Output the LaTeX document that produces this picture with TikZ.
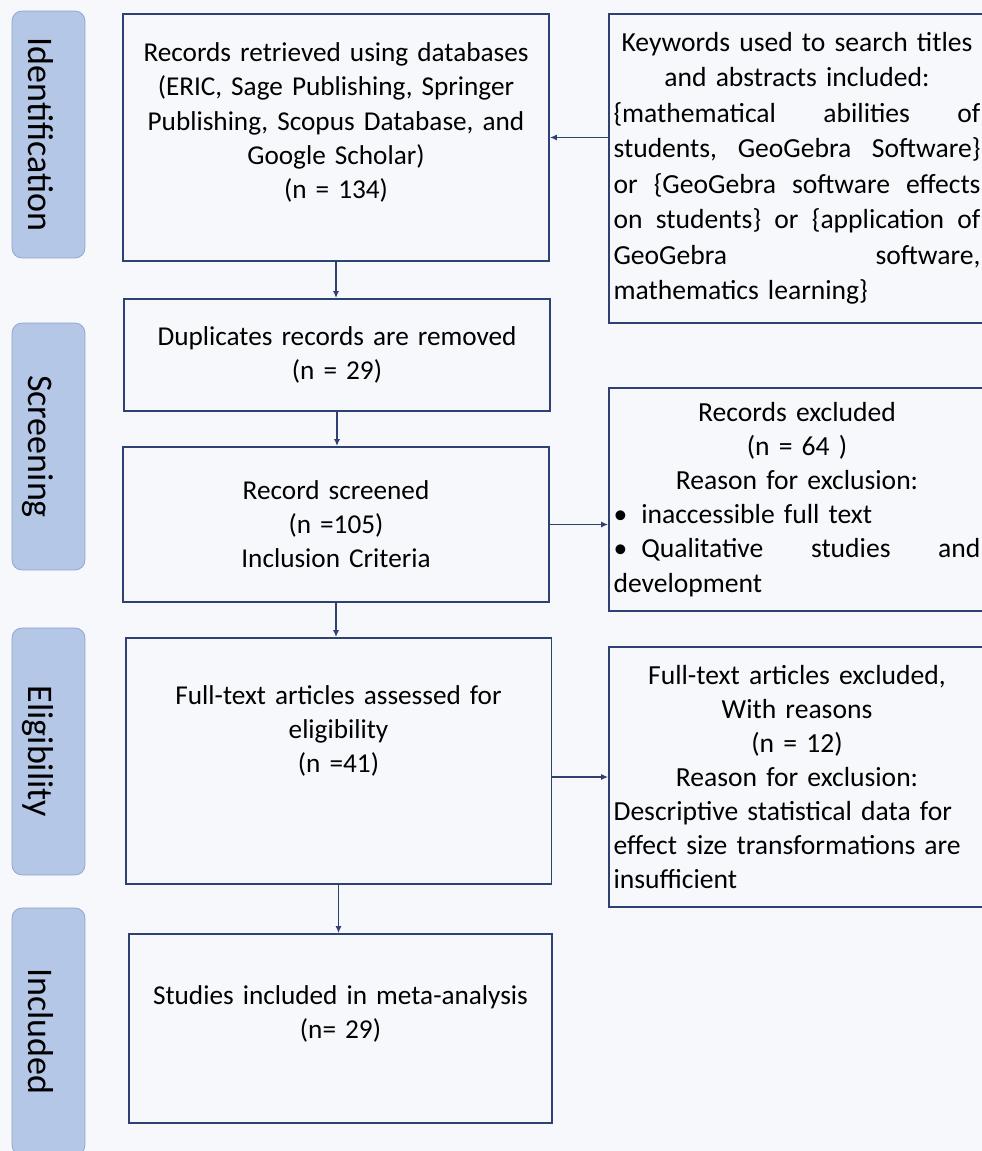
\documentclass[tikz,border=0pt]{standalone}
\usepackage{fontspec}
\setmainfont{Carlito}
\usetikzlibrary{arrows.meta}
\definecolor{navy}{RGB}{47,64,115}
\definecolor{stagefill}{RGB}{180,199,231}
\definecolor{stageline}{RGB}{140,160,200}
\definecolor{paper}{RGB}{247,248,252}
\newcommand{\midrow}[1]{\makebox[\linewidth][c]{#1}}
\newcommand{\fullrow}[1]{\makebox[\linewidth][l]{#1}}
\newcommand{\bottomgap}[1]{\par\vspace{#1}\hrule height 0pt}

\begin{document}
\begin{tikzpicture}[x=0.02cm, y=-0.02cm,
    flow/.style = {draw=navy, line width=1.1pt, inner sep=0pt, text width=8.3cm, align=center, minimum width=8.52cm, font=\fontsize{15.5}{19.4}\selectfont},
    note/.style = {draw=navy, line width=1.1pt, inner sep=0pt, text width=7.34cm, align=left, minimum width=7.52cm, font=\fontsize{15.7}{19.4}\selectfont},
    stage/.style = {draw=stageline, fill=stagefill, rounded corners=0.2cm, rotate=-90, minimum width=4.94cm, minimum height=1.46cm, inner sep=0pt, text height=23pt, text depth=0pt, font=\fontsize{20.5}{24}\selectfont},
    arr/.style = {draw=navy, line width=0.8pt, -{Latex[length=4pt,width=3.5pt]}}]
    \fill[paper] (0,0) rectangle (982,1151);
    \useasboundingbox (0,0) rectangle (982,1151);
    \clip (0,0) rectangle (982,1151);

    \node[stage] (id) at (48.5,134.5) {Identification};
    \node[stage] (sc) at (48.5,446.5) {Screening};
    \node[stage] (el) at (48.5,751.5) {Eligibility};
    \node[stage] (in) at (48.5,1031.5) {Included};

    \node[flow, minimum height=4.94cm] (rec) at (336,137.5) {Records retrieved using databases\\ (ERIC, Sage Publishing, Springer\\ Publishing, Scopus Database, and\\ Google Scholar)\\ (n = 134)\bottomgap{0.6cm}};
    \node[flow, minimum height=2.24cm] (dup) at (337,355) {Duplicates records are removed\\ (n = 29)};
    \node[flow, minimum height=3.1cm] (scr) at (336,524.5) {Record screened\\ (n =105)\\ Inclusion Criteria};
    \node[flow, minimum height=4.92cm] (elig) at (338.5,761) {Full-text articles assessed for\\ eligibility\\ (n =41)\bottomgap{1.2cm}};
    \node[flow, minimum height=3.78cm, minimum width=8.46cm] (incl) at (340.5,1028.5) {Studies included in meta-analysis\\ (n= 29)\bottomgap{0.58cm}};

    \node[note, minimum height=6.18cm, font=\fontsize{15.7}{20.2}\selectfont] (kw) at (797,168.5) {\midrow{Keywords used to search titles}\\
        \midrow{and abstracts included:}\\
        \fullrow{\{mathematical\hfill abilities\hfill of}\\
        \fullrow{students,\hfill GeoGebra\hfill Software\}}\\
        \fullrow{or\hfill \{GeoGebra\hfill software\hfill effects}\\
        \fullrow{on\hfill students\}\hfill or\hfill \{application\hfill of}\\
        \fullrow{GeoGebra\hfill software,}\\
        mathematics learning\}};
    \node[note, minimum height=4.46cm] (rex) at (797,499.5) {\midrow{Records excluded}\\
        \midrow{(n = 64 )}\\
        \midrow{Reason for exclusion:}\\
        \textbullet\hspace{0.28cm}inaccessible full text\\
        \fullrow{\textbullet\hspace{0.28cm}Qualitative\hfill studies\hfill and}\\
        development};
    \node[note, minimum height=5.2cm] (fex) at (797,777) {\midrow{Full-text articles excluded,}\\
        \midrow{With reasons}\\
        \midrow{(n = 12)}\\
        \midrow{Reason for exclusion:}\\
        Descriptive statistical data for\\
        effect size transformations are\\
        insufficient};

    \draw[arr] (rec.south) -- (rec.south |- dup.north);
    \draw[arr] (dup.south) -- (dup.south |- scr.north);
    \draw[arr] (scr.south) -- (scr.south |- elig.north);
    \draw[arr] (elig.south) -- (elig.south |- incl.north);
    \draw[arr] (kw.west |- rec.east) -- (rec.east);
    \draw[arr] (scr.east) -- (scr.east -| rex.west);
    \draw[arr] (elig.east |- fex.west) -- (fex.west);
\end{tikzpicture}
\end{document}
